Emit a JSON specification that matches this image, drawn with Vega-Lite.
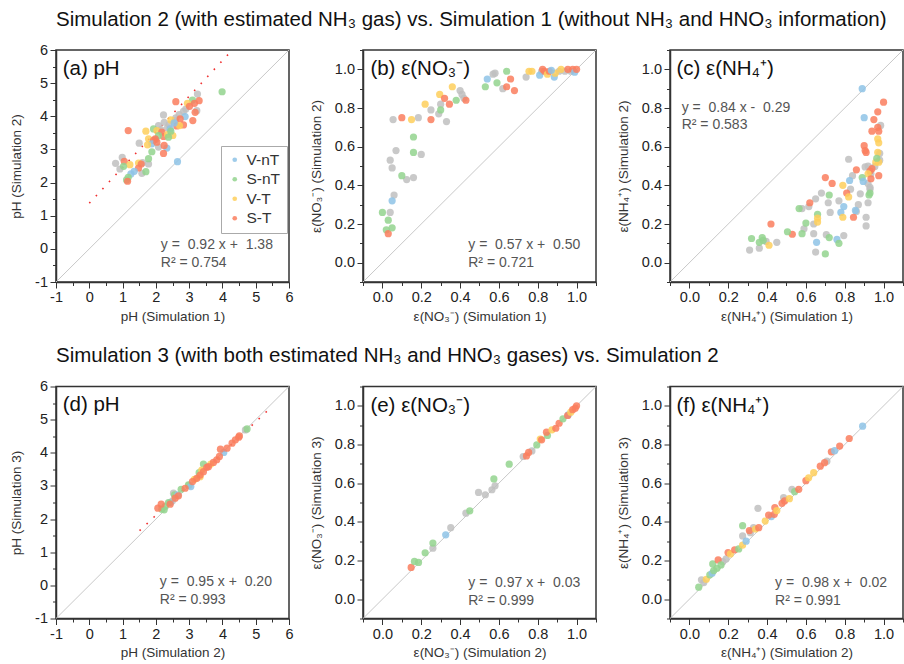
{
"$schema": "https://vega.github.io/schema/vega-lite/v6.json",
"padding": {"left": 8, "top": 9, "right": 2, "bottom": 2},
"config": {
 "font": "Liberation Sans",
 "view": {"stroke": "#333", "strokeWidth": 1.5},
 "axis": {"domainColor": "#333", "domainWidth": 1.5, "tickColor": "#333", "tickWidth": 1, "labelFontSize": 14.5, "labelColor": "#222", "titleFontSize": 13.5, "titleFontWeight": "normal", "titleColor": "#333", "grid": false, "labelFlush": false, "labelOverlap": false, "labelPadding": 2.5},
 "axisX": {"titlePadding": 5},
 "axisY": {"titlePadding": 11},
 "title": {"fontSize": 20.5, "fontWeight": "normal", "anchor": "start", "frame": "group", "color": "#111", "offset": 11}
},
"datasets": {
 "lines": [
  {"p": "a", "k": "diag", "x1": -1, "y1": -1, "x2": 6, "y2": 6},
  {"p": "a", "k": "fit", "x1": 0, "y1": 1.38, "x2": 4.27, "y2": 5.97},
  {"p": "b", "k": "diag", "x1": -0.1, "y1": -0.1, "x2": 1.1, "y2": 1.1},
  {"p": "c", "k": "diag", "x1": -0.1, "y1": -0.1, "x2": 1.1, "y2": 1.1},
  {"p": "d", "k": "diag", "x1": -1, "y1": -1, "x2": 6, "y2": 6},
  {"p": "d", "k": "fit", "x1": 1.51, "y1": 1.65, "x2": 5.44, "y2": 5.35},
  {"p": "e", "k": "diag", "x1": -0.1, "y1": -0.1, "x2": 1.1, "y2": 1.1},
  {"p": "f", "k": "diag", "x1": -0.1, "y1": -0.1, "x2": 1.1, "y2": 1.1}
 ],
 "pts": [
  {"p":"a","c":"other","x":3.25,"y":4.67},{"p":"a","c":"other","x":3.23,"y":4.17},{"p":"a","c":"other","x":2.83,"y":4.15},{"p":"a","c":"other","x":2.23,"y":4.04},{"p":"a","c":"other","x":2.58,"y":3.87},{"p":"a","c":"other","x":2.08,"y":3.72},{"p":"a","c":"other","x":1.50,"y":3.19},{"p":"a","c":"other","x":2.08,"y":3.07},{"p":"a","c":"other","x":1.78,"y":2.56},{"p":"a","c":"other","x":0.99,"y":2.76},{"p":"a","c":"other","x":0.79,"y":2.58},{"p":"a","c":"other","x":0.92,"y":2.41},{"p":"a","c":"other","x":1.58,"y":2.28},{"p":"a","c":"other","x":2.25,"y":3.82},{"p":"a","c":"other","x":2.40,"y":3.75},{"p":"a","c":"other","x":2.60,"y":3.95},{"p":"a","c":"other","x":2.90,"y":4.22},{"p":"a","c":"other","x":2.00,"y":3.30},{"p":"a","c":"other","x":2.15,"y":3.60},{"p":"a","c":"other","x":2.70,"y":4.05},{"p":"a","c":"other","x":1.60,"y":2.60},{"p":"a","c":"other","x":2.35,"y":3.65},
  {"p":"a","c":"S-nT","x":3.99,"y":4.74},{"p":"a","c":"S-T","x":3.30,"y":4.47},{"p":"a","c":"S-nT","x":3.10,"y":4.49},{"p":"a","c":"S-T","x":3.16,"y":4.39},{"p":"a","c":"V-T","x":2.95,"y":4.39},{"p":"a","c":"S-T","x":2.60,"y":4.44},{"p":"a","c":"S-T","x":3.01,"y":4.30},{"p":"a","c":"S-T","x":3.18,"y":4.12},{"p":"a","c":"V-nT","x":2.88,"y":3.99},{"p":"a","c":"S-T","x":2.73,"y":3.92},{"p":"a","c":"S-T","x":3.11,"y":3.87},{"p":"a","c":"V-T","x":2.45,"y":3.89},{"p":"a","c":"S-T","x":2.83,"y":3.74},{"p":"a","c":"S-T","x":2.63,"y":3.71},{"p":"a","c":"V-T","x":2.71,"y":3.72},{"p":"a","c":"V-nT","x":2.43,"y":3.62},{"p":"a","c":"S-nT","x":1.93,"y":3.62},{"p":"a","c":"V-T","x":1.70,"y":3.55},{"p":"a","c":"S-T","x":1.17,"y":3.57},{"p":"a","c":"V-T","x":2.03,"y":3.57},{"p":"a","c":"S-T","x":2.18,"y":3.52},{"p":"a","c":"S-T","x":2.23,"y":3.39},{"p":"a","c":"V-T","x":2.35,"y":3.45},{"p":"a","c":"V-T","x":2.51,"y":3.42},{"p":"a","c":"S-nT","x":2.38,"y":3.37},{"p":"a","c":"S-nT","x":2.08,"y":3.42},{"p":"a","c":"S-T","x":1.98,"y":3.32},{"p":"a","c":"V-T","x":1.78,"y":3.32},{"p":"a","c":"S-T","x":1.93,"y":3.27},{"p":"a","c":"V-nT","x":1.88,"y":3.17},{"p":"a","c":"S-T","x":2.03,"y":3.22},{"p":"a","c":"V-T","x":1.75,"y":3.14},{"p":"a","c":"V-nT","x":2.33,"y":3.04},{"p":"a","c":"S-T","x":2.25,"y":3.12},{"p":"a","c":"S-nT","x":1.88,"y":2.93},{"p":"a","c":"S-T","x":2.23,"y":2.88},{"p":"a","c":"V-nT","x":2.65,"y":2.63},{"p":"a","c":"S-nT","x":1.78,"y":2.72},{"p":"a","c":"S-T","x":1.05,"y":2.64},{"p":"a","c":"V-T","x":1.22,"y":2.54},{"p":"a","c":"S-nT","x":1.03,"y":2.49},{"p":"a","c":"V-T","x":1.48,"y":2.59},{"p":"a","c":"S-T","x":1.56,"y":2.56},{"p":"a","c":"S-T","x":1.48,"y":2.44},{"p":"a","c":"V-nT","x":1.35,"y":2.34},{"p":"a","c":"S-nT","x":1.70,"y":2.33},{"p":"a","c":"V-nT","x":1.25,"y":2.26},{"p":"a","c":"S-nT","x":1.17,"y":2.16},{"p":"a","c":"S-nT","x":1.12,"y":2.08},{"p":"a","c":"S-T","x":1.15,"y":2.04},{"p":"a","c":"V-nT","x":2.55,"y":3.80},{"p":"a","c":"S-nT","x":2.45,"y":3.55},

  {"p":"b","c":"other","x":0.04,"y":0.26},{"p":"b","c":"other","x":0.06,"y":0.35},{"p":"b","c":"other","x":0.04,"y":0.53},{"p":"b","c":"other","x":0.05,"y":0.49},{"p":"b","c":"other","x":0.07,"y":0.58},{"p":"b","c":"other","x":0.055,"y":0.74},{"p":"b","c":"other","x":0.125,"y":0.43},{"p":"b","c":"other","x":0.16,"y":0.44},{"p":"b","c":"other","x":0.20,"y":0.56},{"p":"b","c":"other","x":0.185,"y":0.75},{"p":"b","c":"other","x":0.25,"y":0.79},{"p":"b","c":"other","x":0.29,"y":0.77},{"p":"b","c":"other","x":0.30,"y":0.82},{"p":"b","c":"other","x":0.33,"y":0.73},{"p":"b","c":"other","x":0.40,"y":0.89},{"p":"b","c":"other","x":0.41,"y":0.87},{"p":"b","c":"other","x":0.42,"y":0.85},{"p":"b","c":"other","x":0.58,"y":0.98},{"p":"b","c":"other","x":0.57,"y":0.975},{"p":"b","c":"other","x":0.62,"y":0.90},{"p":"b","c":"other","x":0.74,"y":0.96},{"p":"b","c":"other","x":0.82,"y":0.99},{"p":"b","c":"other","x":0.91,"y":0.99},{"p":"b","c":"other","x":0.94,"y":0.99},{"p":"b","c":"other","x":0.97,"y":0.99},
  {"p":"b","c":"S-nT","x":0.00,"y":0.26},{"p":"b","c":"S-nT","x":0.03,"y":0.22},{"p":"b","c":"S-nT","x":0.02,"y":0.17},{"p":"b","c":"S-T","x":0.03,"y":0.15},{"p":"b","c":"S-nT","x":0.05,"y":0.18},{"p":"b","c":"V-nT","x":0.05,"y":0.32},{"p":"b","c":"S-T","x":0.10,"y":0.75},{"p":"b","c":"S-nT","x":0.10,"y":0.45},{"p":"b","c":"S-nT","x":0.16,"y":0.57},{"p":"b","c":"S-nT","x":0.16,"y":0.65},{"p":"b","c":"V-T","x":0.15,"y":0.74},{"p":"b","c":"V-T","x":0.22,"y":0.82},{"p":"b","c":"S-T","x":0.25,"y":0.74},{"p":"b","c":"S-nT","x":0.30,"y":0.79},{"p":"b","c":"V-T","x":0.295,"y":0.87},{"p":"b","c":"S-T","x":0.32,"y":0.85},{"p":"b","c":"S-T","x":0.345,"y":0.82},{"p":"b","c":"V-T","x":0.36,"y":0.91},{"p":"b","c":"S-nT","x":0.38,"y":0.84},{"p":"b","c":"S-T","x":0.43,"y":0.84},{"p":"b","c":"S-nT","x":0.53,"y":0.91},{"p":"b","c":"V-nT","x":0.54,"y":0.95},{"p":"b","c":"S-nT","x":0.59,"y":0.93},{"p":"b","c":"S-nT","x":0.64,"y":0.99},{"p":"b","c":"S-T","x":0.64,"y":0.91},{"p":"b","c":"S-T","x":0.66,"y":0.95},{"p":"b","c":"S-T","x":0.68,"y":0.89},{"p":"b","c":"V-T","x":0.755,"y":0.99},{"p":"b","c":"V-T","x":0.77,"y":0.99},{"p":"b","c":"V-nT","x":0.81,"y":0.97},{"p":"b","c":"S-T","x":0.825,"y":1.0},{"p":"b","c":"S-T","x":0.835,"y":0.99},{"p":"b","c":"V-T","x":0.85,"y":0.975},{"p":"b","c":"S-T","x":0.86,"y":0.99},{"p":"b","c":"V-nT","x":0.885,"y":0.96},{"p":"b","c":"V-T","x":0.89,"y":0.98},{"p":"b","c":"V-nT","x":0.87,"y":0.995},{"p":"b","c":"V-T","x":0.92,"y":1.0},{"p":"b","c":"S-T","x":0.955,"y":1.0},{"p":"b","c":"S-T","x":0.98,"y":1.0},{"p":"b","c":"V-nT","x":0.99,"y":0.985},{"p":"b","c":"S-T","x":1.0,"y":1.0},

  {"p":"c","c":"other","x":0.985,"y":0.71},{"p":"c","c":"other","x":0.98,"y":0.565},{"p":"c","c":"other","x":0.98,"y":0.53},{"p":"c","c":"other","x":0.82,"y":0.535},{"p":"c","c":"other","x":0.905,"y":0.495},{"p":"c","c":"other","x":0.92,"y":0.50},{"p":"c","c":"other","x":0.955,"y":0.498},{"p":"c","c":"other","x":0.92,"y":0.41},{"p":"c","c":"other","x":0.93,"y":0.38},{"p":"c","c":"other","x":0.935,"y":0.46},{"p":"c","c":"other","x":0.84,"y":0.45},{"p":"c","c":"other","x":0.83,"y":0.38},{"p":"c","c":"other","x":0.88,"y":0.356},{"p":"c","c":"other","x":0.68,"y":0.36},{"p":"c","c":"other","x":0.65,"y":0.33},{"p":"c","c":"other","x":0.615,"y":0.29},{"p":"c","c":"other","x":0.715,"y":0.31},{"p":"c","c":"other","x":0.58,"y":0.28},{"p":"c","c":"other","x":0.725,"y":0.26},{"p":"c","c":"other","x":0.64,"y":0.20},{"p":"c","c":"other","x":0.87,"y":0.30},{"p":"c","c":"other","x":0.86,"y":0.265},{"p":"c","c":"other","x":0.92,"y":0.31},{"p":"c","c":"other","x":0.91,"y":0.235},{"p":"c","c":"other","x":0.91,"y":0.19},{"p":"c","c":"other","x":0.59,"y":0.175},{"p":"c","c":"other","x":0.64,"y":0.15},{"p":"c","c":"other","x":0.705,"y":0.145},{"p":"c","c":"other","x":0.795,"y":0.14},{"p":"c","c":"other","x":0.45,"y":0.105},{"p":"c","c":"other","x":0.395,"y":0.11},{"p":"c","c":"other","x":0.36,"y":0.075},{"p":"c","c":"other","x":0.31,"y":0.065},{"p":"c","c":"other","x":0.65,"y":0.055},{"p":"c","c":"other","x":0.93,"y":0.39},{"p":"c","c":"other","x":0.77,"y":0.32},
  {"p":"c","c":"V-nT","x":0.89,"y":0.90},{"p":"c","c":"S-T","x":1.0,"y":0.83},{"p":"c","c":"S-T","x":0.97,"y":0.78},{"p":"c","c":"V-nT","x":0.90,"y":0.75},{"p":"c","c":"S-T","x":0.95,"y":0.74},{"p":"c","c":"S-T","x":0.94,"y":0.68},{"p":"c","c":"S-T","x":0.97,"y":0.70},{"p":"c","c":"S-T","x":0.975,"y":0.68},{"p":"c","c":"V-T","x":0.97,"y":0.64},{"p":"c","c":"V-T","x":0.975,"y":0.62},{"p":"c","c":"S-T","x":0.90,"y":0.605},{"p":"c","c":"S-T","x":0.91,"y":0.57},{"p":"c","c":"S-T","x":0.905,"y":0.58},{"p":"c","c":"V-T","x":0.97,"y":0.57},{"p":"c","c":"V-T","x":0.96,"y":0.52},{"p":"c","c":"V-T","x":0.975,"y":0.52},{"p":"c","c":"S-nT","x":0.965,"y":0.54},{"p":"c","c":"S-T","x":0.86,"y":0.48},{"p":"c","c":"S-T","x":0.94,"y":0.486},{"p":"c","c":"S-T","x":0.93,"y":0.474},{"p":"c","c":"V-T","x":0.92,"y":0.46},{"p":"c","c":"S-nT","x":0.89,"y":0.44},{"p":"c","c":"V-nT","x":0.895,"y":0.42},{"p":"c","c":"S-T","x":0.935,"y":0.434},{"p":"c","c":"S-T","x":0.975,"y":0.45},{"p":"c","c":"V-nT","x":0.825,"y":0.425},{"p":"c","c":"S-T","x":0.70,"y":0.44},{"p":"c","c":"S-T","x":0.735,"y":0.41},{"p":"c","c":"V-T","x":0.79,"y":0.40},{"p":"c","c":"S-T","x":0.81,"y":0.36},{"p":"c","c":"V-T","x":0.82,"y":0.34},{"p":"c","c":"S-nT","x":0.93,"y":0.36},{"p":"c","c":"S-nT","x":0.925,"y":0.35},{"p":"c","c":"S-nT","x":0.72,"y":0.35},{"p":"c","c":"S-T","x":0.62,"y":0.31},{"p":"c","c":"S-nT","x":0.565,"y":0.28},{"p":"c","c":"V-nT","x":0.795,"y":0.29},{"p":"c","c":"V-nT","x":0.78,"y":0.26},{"p":"c","c":"S-nT","x":0.66,"y":0.25},{"p":"c","c":"V-T","x":0.66,"y":0.23},{"p":"c","c":"V-T","x":0.66,"y":0.21},{"p":"c","c":"S-nT","x":0.60,"y":0.205},{"p":"c","c":"V-T","x":0.79,"y":0.235},{"p":"c","c":"S-T","x":0.845,"y":0.235},{"p":"c","c":"V-nT","x":0.855,"y":0.27},{"p":"c","c":"S-nT","x":0.72,"y":0.13},{"p":"c","c":"S-nT","x":0.58,"y":0.15},{"p":"c","c":"S-T","x":0.53,"y":0.147},{"p":"c","c":"S-nT","x":0.505,"y":0.16},{"p":"c","c":"S-T","x":0.42,"y":0.20},{"p":"c","c":"S-nT","x":0.375,"y":0.13},{"p":"c","c":"S-nT","x":0.32,"y":0.125},{"p":"c","c":"S-nT","x":0.36,"y":0.105},{"p":"c","c":"S-nT","x":0.38,"y":0.115},{"p":"c","c":"V-T","x":0.41,"y":0.09},{"p":"c","c":"V-nT","x":0.655,"y":0.105},{"p":"c","c":"S-nT","x":0.70,"y":0.045},{"p":"c","c":"V-nT","x":0.76,"y":0.12},{"p":"c","c":"S-nT","x":0.77,"y":0.10},

  {"p":"d","c":"other","x":2.53,"y":2.78},{"p":"d","c":"other","x":4.69,"y":4.69},{"p":"d","c":"other","x":2.50,"y":2.55},{"p":"d","c":"other","x":3.0,"y":3.02},
  {"p":"d","c":"S-nT","x":2.18,"y":2.30},{"p":"d","c":"S-nT","x":2.28,"y":2.38},{"p":"d","c":"S-nT","x":2.25,"y":2.28},{"p":"d","c":"V-nT","x":2.43,"y":2.50},{"p":"d","c":"S-nT","x":2.38,"y":2.50},{"p":"d","c":"S-nT","x":2.56,"y":2.73},{"p":"d","c":"V-nT","x":2.66,"y":2.73},{"p":"d","c":"S-nT","x":2.76,"y":2.90},{"p":"d","c":"S-nT","x":2.98,"y":3.03},{"p":"d","c":"V-nT","x":3.05,"y":2.98},{"p":"d","c":"S-nT","x":3.30,"y":3.40},{"p":"d","c":"S-nT","x":3.43,"y":3.66},{"p":"d","c":"V-nT","x":4.04,"y":4.01},{"p":"d","c":"S-nT","x":4.74,"y":4.72},{"p":"d","c":"V-T","x":3.16,"y":3.20},{"p":"d","c":"V-T","x":3.38,"y":3.48},{"p":"d","c":"V-T","x":3.33,"y":3.28},{"p":"d","c":"V-T","x":3.65,"y":3.66},
  {"p":"d","c":"S-T","x":2.06,"y":2.33},{"p":"d","c":"S-T","x":2.16,"y":2.45},{"p":"d","c":"S-T","x":2.43,"y":2.45},{"p":"d","c":"S-T","x":2.58,"y":2.63},{"p":"d","c":"S-T","x":2.68,"y":2.70},{"p":"d","c":"S-T","x":2.88,"y":2.93},{"p":"d","c":"S-T","x":3.10,"y":3.13},{"p":"d","c":"S-T","x":3.23,"y":3.23},{"p":"d","c":"S-T","x":3.33,"y":3.33},{"p":"d","c":"S-T","x":3.43,"y":3.43},{"p":"d","c":"S-T","x":3.53,"y":3.56},{"p":"d","c":"S-T","x":3.58,"y":3.58},{"p":"d","c":"S-T","x":3.73,"y":3.71},{"p":"d","c":"S-T","x":3.83,"y":3.79},{"p":"d","c":"S-T","x":3.91,"y":3.89},{"p":"d","c":"S-T","x":3.94,"y":4.11},{"p":"d","c":"S-T","x":4.14,"y":4.14},{"p":"d","c":"S-T","x":4.29,"y":4.29},{"p":"d","c":"S-T","x":4.39,"y":4.39},{"p":"d","c":"S-T","x":4.49,"y":4.47},{"p":"d","c":"S-T","x":4.51,"y":4.51},

  {"p":"e","c":"other","x":0.26,"y":0.264},{"p":"e","c":"other","x":0.352,"y":0.37},{"p":"e","c":"other","x":0.43,"y":0.445},{"p":"e","c":"other","x":0.495,"y":0.552},{"p":"e","c":"other","x":0.53,"y":0.54},{"p":"e","c":"other","x":0.564,"y":0.566},{"p":"e","c":"other","x":0.58,"y":0.586},{"p":"e","c":"other","x":0.725,"y":0.738},{"p":"e","c":"other","x":0.77,"y":0.767},
  {"p":"e","c":"S-T","x":0.148,"y":0.164},{"p":"e","c":"S-nT","x":0.165,"y":0.195},{"p":"e","c":"S-nT","x":0.186,"y":0.19},{"p":"e","c":"S-nT","x":0.22,"y":0.24},{"p":"e","c":"S-nT","x":0.26,"y":0.29},{"p":"e","c":"V-nT","x":0.326,"y":0.333},{"p":"e","c":"S-nT","x":0.45,"y":0.457},{"p":"e","c":"S-nT","x":0.574,"y":0.622},{"p":"e","c":"S-nT","x":0.653,"y":0.698},{"p":"e","c":"S-T","x":0.742,"y":0.741},{"p":"e","c":"S-T","x":0.753,"y":0.759},{"p":"e","c":"S-nT","x":0.795,"y":0.798},{"p":"e","c":"V-T","x":0.813,"y":0.828},{"p":"e","c":"S-T","x":0.82,"y":0.824},{"p":"e","c":"S-nT","x":0.85,"y":0.847},{"p":"e","c":"S-T","x":0.845,"y":0.864},{"p":"e","c":"V-T","x":0.873,"y":0.876},{"p":"e","c":"S-T","x":0.893,"y":0.884},{"p":"e","c":"S-T","x":0.91,"y":0.91},{"p":"e","c":"S-nT","x":0.93,"y":0.933},{"p":"e","c":"V-nT","x":0.957,"y":0.953},{"p":"e","c":"S-T","x":0.954,"y":0.95},{"p":"e","c":"V-T","x":0.97,"y":0.967},{"p":"e","c":"S-T","x":0.98,"y":0.98},{"p":"e","c":"S-T","x":0.993,"y":0.988},{"p":"e","c":"S-T","x":1.0,"y":1.0},

  {"p":"f","c":"other","x":0.062,"y":0.10},{"p":"f","c":"other","x":0.074,"y":0.086},{"p":"f","c":"other","x":0.172,"y":0.194},{"p":"f","c":"other","x":0.189,"y":0.208},{"p":"f","c":"other","x":0.274,"y":0.327},{"p":"f","c":"other","x":0.314,"y":0.344},{"p":"f","c":"other","x":0.353,"y":0.47},{"p":"f","c":"other","x":0.485,"y":0.525},{"p":"f","c":"other","x":0.528,"y":0.568},{"p":"f","c":"other","x":0.708,"y":0.714},{"p":"f","c":"other","x":0.33,"y":0.37},
  {"p":"f","c":"S-nT","x":0.048,"y":0.062},{"p":"f","c":"V-T","x":0.087,"y":0.103},{"p":"f","c":"S-nT","x":0.105,"y":0.126},{"p":"f","c":"V-nT","x":0.117,"y":0.134},{"p":"f","c":"S-nT","x":0.125,"y":0.148},{"p":"f","c":"S-nT","x":0.12,"y":0.182},{"p":"f","c":"S-nT","x":0.142,"y":0.16},{"p":"f","c":"S-T","x":0.148,"y":0.203},{"p":"f","c":"S-nT","x":0.163,"y":0.177},{"p":"f","c":"S-T","x":0.199,"y":0.241},{"p":"f","c":"V-T","x":0.211,"y":0.234},{"p":"f","c":"S-T","x":0.233,"y":0.255},{"p":"f","c":"S-nT","x":0.254,"y":0.26},{"p":"f","c":"V-T","x":0.274,"y":0.28},{"p":"f","c":"V-nT","x":0.292,"y":0.30},{"p":"f","c":"S-nT","x":0.274,"y":0.38},{"p":"f","c":"S-T","x":0.309,"y":0.355},{"p":"f","c":"V-T","x":0.34,"y":0.363},{"p":"f","c":"S-T","x":0.357,"y":0.37},{"p":"f","c":"V-T","x":0.39,"y":0.404},{"p":"f","c":"V-nT","x":0.422,"y":0.427},{"p":"f","c":"S-T","x":0.408,"y":0.435},{"p":"f","c":"S-T","x":0.44,"y":0.473},{"p":"f","c":"S-T","x":0.437,"y":0.439},{"p":"f","c":"V-T","x":0.45,"y":0.458},{"p":"f","c":"S-T","x":0.477,"y":0.496},{"p":"f","c":"S-T","x":0.49,"y":0.508},{"p":"f","c":"V-T","x":0.515,"y":0.52},{"p":"f","c":"S-nT","x":0.542,"y":0.556},{"p":"f","c":"S-T","x":0.563,"y":0.568},{"p":"f","c":"S-T","x":0.60,"y":0.613},{"p":"f","c":"V-T","x":0.614,"y":0.628},{"p":"f","c":"V-T","x":0.64,"y":0.654},{"p":"f","c":"S-T","x":0.674,"y":0.688},{"p":"f","c":"S-T","x":0.696,"y":0.706},{"p":"f","c":"S-T","x":0.731,"y":0.762},{"p":"f","c":"V-nT","x":0.748,"y":0.768},{"p":"f","c":"S-T","x":0.774,"y":0.792},{"p":"f","c":"S-T","x":0.823,"y":0.831},{"p":"f","c":"V-nT","x":0.892,"y":0.895}
 ]
},
"spacing": 21.5,
"resolve": {"scale": {"color": "independent"}, "legend": {"color": "independent"}},
"vconcat": [
 {
  "bounds": "flush", "spacing": 74,
  "title": {"text": "Simulation 2 (with estimated NH₃ gas) vs. Simulation 1 (without NH₃ and HNO₃ information)"},
  "resolve": {"scale": {"color": "independent"}, "legend": {"color": "independent"}},
  "hconcat": [
   {
    "width": 233, "height": 232,
    "resolve": {"axis": {"x": "independent", "y": "independent"}},
    "layer": [
     {"data": {"name": "lines"}, "transform": [{"filter": "datum.p === 'a' && datum.k === 'diag'"}],
      "mark": {"type": "rule", "color": "#c8c8c8", "strokeWidth": 1},
      "encoding": {
       "x": {"field": "x1", "type": "quantitative", "scale": {"domain": [-1, 6], "nice": false}, "axis": {"orient": "bottom", "title": null, "values": [-0.5,0.5,1.5,2.5,3.5,4.5,5.5], "labels": false, "domain": false, "tickSize": 3.5}},
       "y": {"field": "y1", "type": "quantitative", "scale": {"domain": [-1, 6], "nice": false}, "axis": {"orient": "left", "title": null, "values": [-0.5,0.5,1.5,2.5,3.5,4.5,5.5], "labels": false, "domain": false, "tickSize": 3.5}},
       "x2": {"field": "x2"}, "y2": {"field": "y2"}}},
     {"data": {"name": "lines"}, "transform": [{"filter": "datum.p === 'a' && datum.k === 'fit'"}],
      "mark": {"type": "rule", "color": "#f03030", "strokeWidth": 1.6, "strokeDash": [1.6, 8]},
      "encoding": {
       "x": {"field": "x1", "type": "quantitative", "scale": {"domain": [-1, 6], "nice": false}, "axis": null},
       "y": {"field": "y1", "type": "quantitative", "scale": {"domain": [-1, 6], "nice": false}, "axis": null},
       "x2": {"field": "x2"}, "y2": {"field": "y2"}}},
     {"data": {"name": "pts"}, "transform": [{"filter": "datum.p === 'a'"}],
      "mark": {"type": "circle", "size": 52, "opacity": 0.85},
      "encoding": {
       "x": {"field": "x", "type": "quantitative", "scale": {"domain": [-1, 6], "nice": false}, "axis": {"orient": "bottom", "title": "pH (Simulation 1)", "values": [-1,0,1,2,3,4,5,6], "labelExpr": "'' + datum.value", "tickSize": 6}},
       "y": {"field": "y", "type": "quantitative", "scale": {"domain": [-1, 6], "nice": false}, "axis": {"orient": "left", "title": "pH (Simulation 2)", "values": [-1,0,1,2,3,4,5,6], "labelExpr": "'' + datum.value", "tickSize": 6}},
       "color": {"field": "c", "type": "nominal", "scale": {"domain": ["V-nT","S-nT","V-T","S-T","other"], "range": ["#8ec3e6","#93d38e","#fecf5c","#fa7e5e","#c0c0c0"]},
        "legend": {"orient": "none", "legendX": 165, "legendY": 96, "title": null, "values": ["V-nT","S-nT","V-T","S-T"], "strokeColor": "#aaa", "fillColor": "white", "padding": 6, "labelFontSize": 15.5, "labelColor": "#333", "symbolSize": 22, "symbolType": "circle", "symbolOpacity": 0.85, "symbolStrokeWidth": 0, "rowPadding": 2.5, "labelOffset": 4}}}},
     {"data": {"values": [{}]}, "mark": {"type": "text", "text": "(a) pH", "align": "left", "baseline": "middle", "fontSize": 20.5, "color": "#111"},
      "encoding": {"x": {"datum": -0.8, "type": "quantitative", "axis": null}, "y": {"datum": 5.43, "type": "quantitative", "axis": null}}},
     {"data": {"values": [{}]}, "mark": {"type": "text", "text": "y = \u00a00.92 x + \u00a01.38", "align": "left", "baseline": "middle", "fontSize": 14, "color": "#555"},
      "encoding": {"x": {"datum": 2.15, "type": "quantitative", "axis": null}, "y": {"datum": 0.125, "type": "quantitative", "axis": null}}},
     {"data": {"values": [{}]}, "mark": {"type": "text", "text": "R² = 0.754", "align": "left", "baseline": "middle", "fontSize": 14, "color": "#555"},
      "encoding": {"x": {"datum": 2.15, "type": "quantitative", "axis": null}, "y": {"datum": -0.44, "type": "quantitative", "axis": null}}}
    ]
   },
   {
    "width": 233, "height": 232,
    "resolve": {"axis": {"x": "independent", "y": "independent"}},
    "layer": [
     {"data": {"name": "lines"}, "transform": [{"filter": "datum.p === 'b' && datum.k === 'diag'"}],
      "mark": {"type": "rule", "color": "#c8c8c8", "strokeWidth": 1},
      "encoding": {
       "x": {"field": "x1", "type": "quantitative", "scale": {"domain": [-0.1, 1.1], "nice": false}, "axis": {"orient": "bottom", "title": null, "values": [-0.1,0.1,0.3,0.5,0.7,0.9,1.1], "labels": false, "domain": false, "tickSize": 3.5}},
       "y": {"field": "y1", "type": "quantitative", "scale": {"domain": [-0.1, 1.1], "nice": false}, "axis": {"orient": "left", "title": null, "values": [-0.1,0.1,0.3,0.5,0.7,0.9,1.1], "labels": false, "domain": false, "tickSize": 3.5}},
       "x2": {"field": "x2"}, "y2": {"field": "y2"}}},
     {"data": {"name": "pts"}, "transform": [{"filter": "datum.p === 'b'"}],
      "mark": {"type": "circle", "size": 52, "opacity": 0.85},
      "encoding": {
       "x": {"field": "x", "type": "quantitative", "scale": {"domain": [-0.1, 1.1], "nice": false}, "axis": {"orient": "bottom", "title": "ε(NO₃⁻) (Simulation 1)", "values": [0,0.2,0.4,0.6,0.8,1], "format": ".1f", "tickSize": 6}},
       "y": {"field": "y", "type": "quantitative", "scale": {"domain": [-0.1, 1.1], "nice": false}, "axis": {"orient": "left", "title": "ε(NO₃⁻) (Simulation 2)", "values": [0,0.2,0.4,0.6,0.8,1], "format": ".1f", "tickSize": 6}},
       "color": {"field": "c", "type": "nominal", "scale": {"domain": ["V-nT","S-nT","V-T","S-T","other"], "range": ["#8ec3e6","#93d38e","#fecf5c","#fa7e5e","#c0c0c0"]}, "legend": null}}},
     {"data": {"values": [{}]}, "mark": {"type": "text", "text": "(b) ε(NO₃⁻)", "align": "left", "baseline": "middle", "fontSize": 20.5, "color": "#111"},
      "encoding": {"x": {"datum": -0.062, "type": "quantitative", "axis": null}, "y": {"datum": 1.0, "type": "quantitative", "axis": null}}},
     {"data": {"values": [{}]}, "mark": {"type": "text", "text": "y = \u00a00.57 x + \u00a00.50", "align": "left", "baseline": "middle", "fontSize": 14, "color": "#555"},
      "encoding": {"x": {"datum": 0.442, "type": "quantitative", "axis": null}, "y": {"datum": 0.091, "type": "quantitative", "axis": null}}},
     {"data": {"values": [{}]}, "mark": {"type": "text", "text": "R² = 0.721", "align": "left", "baseline": "middle", "fontSize": 14, "color": "#555"},
      "encoding": {"x": {"datum": 0.442, "type": "quantitative", "axis": null}, "y": {"datum": -0.004, "type": "quantitative", "axis": null}}}
    ]
   },
   {
    "width": 233, "height": 232,
    "resolve": {"axis": {"x": "independent", "y": "independent"}},
    "layer": [
     {"data": {"name": "lines"}, "transform": [{"filter": "datum.p === 'c' && datum.k === 'diag'"}],
      "mark": {"type": "rule", "color": "#c8c8c8", "strokeWidth": 1},
      "encoding": {
       "x": {"field": "x1", "type": "quantitative", "scale": {"domain": [-0.1, 1.1], "nice": false}, "axis": {"orient": "bottom", "title": null, "values": [-0.1,0.1,0.3,0.5,0.7,0.9,1.1], "labels": false, "domain": false, "tickSize": 3.5}},
       "y": {"field": "y1", "type": "quantitative", "scale": {"domain": [-0.1, 1.1], "nice": false}, "axis": {"orient": "left", "title": null, "values": [-0.1,0.1,0.3,0.5,0.7,0.9,1.1], "labels": false, "domain": false, "tickSize": 3.5}},
       "x2": {"field": "x2"}, "y2": {"field": "y2"}}},
     {"data": {"name": "pts"}, "transform": [{"filter": "datum.p === 'c'"}],
      "mark": {"type": "circle", "size": 52, "opacity": 0.85},
      "encoding": {
       "x": {"field": "x", "type": "quantitative", "scale": {"domain": [-0.1, 1.1], "nice": false}, "axis": {"orient": "bottom", "title": "ε(NH₄⁺) (Simulation 1)", "values": [0,0.2,0.4,0.6,0.8,1], "format": ".1f", "tickSize": 6}},
       "y": {"field": "y", "type": "quantitative", "scale": {"domain": [-0.1, 1.1], "nice": false}, "axis": {"orient": "left", "title": "ε(NH₄⁺) (Simulation 2)", "values": [0,0.2,0.4,0.6,0.8,1], "format": ".1f", "tickSize": 6}},
       "color": {"field": "c", "type": "nominal", "scale": {"domain": ["V-nT","S-nT","V-T","S-T","other"], "range": ["#8ec3e6","#93d38e","#fecf5c","#fa7e5e","#c0c0c0"]}, "legend": null}}},
     {"data": {"values": [{}]}, "mark": {"type": "text", "text": "(c) ε(NH₄⁺)", "align": "left", "baseline": "middle", "fontSize": 20.5, "color": "#111"},
      "encoding": {"x": {"datum": -0.067, "type": "quantitative", "axis": null}, "y": {"datum": 1.0, "type": "quantitative", "axis": null}}},
     {"data": {"values": [{}]}, "mark": {"type": "text", "text": "y = \u00a00.84 x - \u00a00.29", "align": "left", "baseline": "middle", "fontSize": 14, "color": "#555"},
      "encoding": {"x": {"datum": -0.04, "type": "quantitative", "axis": null}, "y": {"datum": 0.798, "type": "quantitative", "axis": null}}},
     {"data": {"values": [{}]}, "mark": {"type": "text", "text": "R² = 0.583", "align": "left", "baseline": "middle", "fontSize": 14, "color": "#555"},
      "encoding": {"x": {"datum": -0.04, "type": "quantitative", "axis": null}, "y": {"datum": 0.712, "type": "quantitative", "axis": null}}}
    ]
   }
  ]
 },
 {
  "bounds": "flush", "spacing": 74,
  "resolve": {"scale": {"color": "independent"}, "legend": {"color": "independent"}},
  "title": {"text": "Simulation 3 (with both estimated NH₃ and HNO₃ gases) vs. Simulation 2"},
  "hconcat": [
   {
    "width": 233, "height": 232,
    "resolve": {"axis": {"x": "independent", "y": "independent"}},
    "layer": [
     {"data": {"name": "lines"}, "transform": [{"filter": "datum.p === 'd' && datum.k === 'diag'"}],
      "mark": {"type": "rule", "color": "#c8c8c8", "strokeWidth": 1},
      "encoding": {
       "x": {"field": "x1", "type": "quantitative", "scale": {"domain": [-1, 6], "nice": false}, "axis": {"orient": "bottom", "title": null, "values": [-0.5,0.5,1.5,2.5,3.5,4.5,5.5], "labels": false, "domain": false, "tickSize": 3.5}},
       "y": {"field": "y1", "type": "quantitative", "scale": {"domain": [-1, 6], "nice": false}, "axis": {"orient": "left", "title": null, "values": [-0.5,0.5,1.5,2.5,3.5,4.5,5.5], "labels": false, "domain": false, "tickSize": 3.5}},
       "x2": {"field": "x2"}, "y2": {"field": "y2"}}},
     {"data": {"name": "lines"}, "transform": [{"filter": "datum.p === 'd' && datum.k === 'fit'"}],
      "mark": {"type": "rule", "color": "#f03030", "strokeWidth": 1.6, "strokeDash": [1.6, 8]},
      "encoding": {
       "x": {"field": "x1", "type": "quantitative", "scale": {"domain": [-1, 6], "nice": false}, "axis": null},
       "y": {"field": "y1", "type": "quantitative", "scale": {"domain": [-1, 6], "nice": false}, "axis": null},
       "x2": {"field": "x2"}, "y2": {"field": "y2"}}},
     {"data": {"name": "pts"}, "transform": [{"filter": "datum.p === 'd'"}],
      "mark": {"type": "circle", "size": 52, "opacity": 0.85},
      "encoding": {
       "x": {"field": "x", "type": "quantitative", "scale": {"domain": [-1, 6], "nice": false}, "axis": {"orient": "bottom", "title": "pH (Simulation 2)", "values": [-1,0,1,2,3,4,5,6], "labelExpr": "'' + datum.value", "tickSize": 6}},
       "y": {"field": "y", "type": "quantitative", "scale": {"domain": [-1, 6], "nice": false}, "axis": {"orient": "left", "title": "pH (Simulation 3)", "values": [-1,0,1,2,3,4,5,6], "labelExpr": "'' + datum.value", "tickSize": 6}},
       "color": {"field": "c", "type": "nominal", "scale": {"domain": ["V-nT","S-nT","V-T","S-T","other"], "range": ["#8ec3e6","#93d38e","#fecf5c","#fa7e5e","#c0c0c0"]}, "legend": null}}},
     {"data": {"values": [{}]}, "mark": {"type": "text", "text": "(d) pH", "align": "left", "baseline": "middle", "fontSize": 20.5, "color": "#111"},
      "encoding": {"x": {"datum": -0.8, "type": "quantitative", "axis": null}, "y": {"datum": 5.44, "type": "quantitative", "axis": null}}},
     {"data": {"values": [{}]}, "mark": {"type": "text", "text": "y = \u00a00.95 x + \u00a00.20", "align": "left", "baseline": "middle", "fontSize": 14, "color": "#555"},
      "encoding": {"x": {"datum": 2.12, "type": "quantitative", "axis": null}, "y": {"datum": 0.104, "type": "quantitative", "axis": null}}},
     {"data": {"values": [{}]}, "mark": {"type": "text", "text": "R² = 0.993", "align": "left", "baseline": "middle", "fontSize": 14, "color": "#555"},
      "encoding": {"x": {"datum": 2.12, "type": "quantitative", "axis": null}, "y": {"datum": -0.45, "type": "quantitative", "axis": null}}}
    ]
   },
   {
    "width": 233, "height": 232,
    "resolve": {"axis": {"x": "independent", "y": "independent"}},
    "layer": [
     {"data": {"name": "lines"}, "transform": [{"filter": "datum.p === 'e' && datum.k === 'diag'"}],
      "mark": {"type": "rule", "color": "#c8c8c8", "strokeWidth": 1},
      "encoding": {
       "x": {"field": "x1", "type": "quantitative", "scale": {"domain": [-0.1, 1.1], "nice": false}, "axis": {"orient": "bottom", "title": null, "values": [-0.1,0.1,0.3,0.5,0.7,0.9,1.1], "labels": false, "domain": false, "tickSize": 3.5}},
       "y": {"field": "y1", "type": "quantitative", "scale": {"domain": [-0.1, 1.1], "nice": false}, "axis": {"orient": "left", "title": null, "values": [-0.1,0.1,0.3,0.5,0.7,0.9,1.1], "labels": false, "domain": false, "tickSize": 3.5}},
       "x2": {"field": "x2"}, "y2": {"field": "y2"}}},
     {"data": {"name": "pts"}, "transform": [{"filter": "datum.p === 'e'"}],
      "mark": {"type": "circle", "size": 52, "opacity": 0.85},
      "encoding": {
       "x": {"field": "x", "type": "quantitative", "scale": {"domain": [-0.1, 1.1], "nice": false}, "axis": {"orient": "bottom", "title": "ε(NO₃⁻) (Simulation 2)", "values": [0,0.2,0.4,0.6,0.8,1], "format": ".1f", "tickSize": 6}},
       "y": {"field": "y", "type": "quantitative", "scale": {"domain": [-0.1, 1.1], "nice": false}, "axis": {"orient": "left", "title": "ε(NO₃⁻) (Simulation 3)", "values": [0,0.2,0.4,0.6,0.8,1], "format": ".1f", "tickSize": 6}},
       "color": {"field": "c", "type": "nominal", "scale": {"domain": ["V-nT","S-nT","V-T","S-T","other"], "range": ["#8ec3e6","#93d38e","#fecf5c","#fa7e5e","#c0c0c0"]}, "legend": null}}},
     {"data": {"values": [{}]}, "mark": {"type": "text", "text": "(e) ε(NO₃⁻)", "align": "left", "baseline": "middle", "fontSize": 20.5, "color": "#111"},
      "encoding": {"x": {"datum": -0.062, "type": "quantitative", "axis": null}, "y": {"datum": 1.0, "type": "quantitative", "axis": null}}},
     {"data": {"values": [{}]}, "mark": {"type": "text", "text": "y = \u00a00.97 x + \u00a00.03", "align": "left", "baseline": "middle", "fontSize": 14, "color": "#555"},
      "encoding": {"x": {"datum": 0.442, "type": "quantitative", "axis": null}, "y": {"datum": 0.086, "type": "quantitative", "axis": null}}},
     {"data": {"values": [{}]}, "mark": {"type": "text", "text": "R² = 0.999", "align": "left", "baseline": "middle", "fontSize": 14, "color": "#555"},
      "encoding": {"x": {"datum": 0.442, "type": "quantitative", "axis": null}, "y": {"datum": -0.009, "type": "quantitative", "axis": null}}}
    ]
   },
   {
    "width": 233, "height": 232,
    "resolve": {"axis": {"x": "independent", "y": "independent"}},
    "layer": [
     {"data": {"name": "lines"}, "transform": [{"filter": "datum.p === 'f' && datum.k === 'diag'"}],
      "mark": {"type": "rule", "color": "#c8c8c8", "strokeWidth": 1},
      "encoding": {
       "x": {"field": "x1", "type": "quantitative", "scale": {"domain": [-0.1, 1.1], "nice": false}, "axis": {"orient": "bottom", "title": null, "values": [-0.1,0.1,0.3,0.5,0.7,0.9,1.1], "labels": false, "domain": false, "tickSize": 3.5}},
       "y": {"field": "y1", "type": "quantitative", "scale": {"domain": [-0.1, 1.1], "nice": false}, "axis": {"orient": "left", "title": null, "values": [-0.1,0.1,0.3,0.5,0.7,0.9,1.1], "labels": false, "domain": false, "tickSize": 3.5}},
       "x2": {"field": "x2"}, "y2": {"field": "y2"}}},
     {"data": {"name": "pts"}, "transform": [{"filter": "datum.p === 'f'"}],
      "mark": {"type": "circle", "size": 52, "opacity": 0.85},
      "encoding": {
       "x": {"field": "x", "type": "quantitative", "scale": {"domain": [-0.1, 1.1], "nice": false}, "axis": {"orient": "bottom", "title": "ε(NH₄⁺) (Simulation 2)", "values": [0,0.2,0.4,0.6,0.8,1], "format": ".1f", "tickSize": 6}},
       "y": {"field": "y", "type": "quantitative", "scale": {"domain": [-0.1, 1.1], "nice": false}, "axis": {"orient": "left", "title": "ε(NH₄⁺) (Simulation 3)", "values": [0,0.2,0.4,0.6,0.8,1], "format": ".1f", "tickSize": 6}},
       "color": {"field": "c", "type": "nominal", "scale": {"domain": ["V-nT","S-nT","V-T","S-T","other"], "range": ["#8ec3e6","#93d38e","#fecf5c","#fa7e5e","#c0c0c0"]}, "legend": null}}},
     {"data": {"values": [{}]}, "mark": {"type": "text", "text": "(f) ε(NH₄⁺)", "align": "left", "baseline": "middle", "fontSize": 20.5, "color": "#111"},
      "encoding": {"x": {"datum": -0.067, "type": "quantitative", "axis": null}, "y": {"datum": 1.0, "type": "quantitative", "axis": null}}},
     {"data": {"values": [{}]}, "mark": {"type": "text", "text": "y = \u00a00.98 x + \u00a00.02", "align": "left", "baseline": "middle", "fontSize": 14, "color": "#555"},
      "encoding": {"x": {"datum": 0.441, "type": "quantitative", "axis": null}, "y": {"datum": 0.086, "type": "quantitative", "axis": null}}},
     {"data": {"values": [{}]}, "mark": {"type": "text", "text": "R² = 0.991", "align": "left", "baseline": "middle", "fontSize": 14, "color": "#555"},
      "encoding": {"x": {"datum": 0.441, "type": "quantitative", "axis": null}, "y": {"datum": -0.012, "type": "quantitative", "axis": null}}}
    ]
   }
  ]
 }
]
}
